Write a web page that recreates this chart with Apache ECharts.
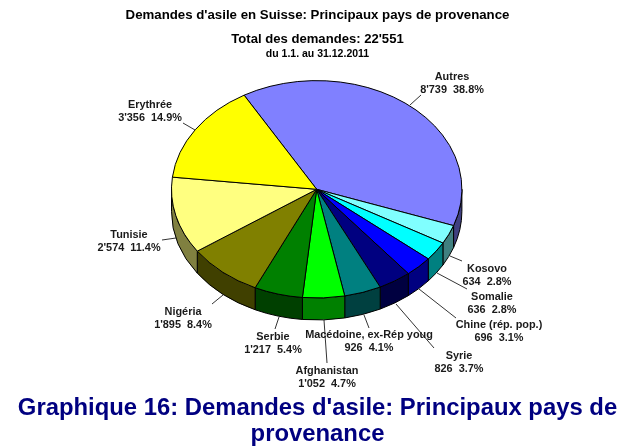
<!DOCTYPE html>
<html>
<head>
<meta charset="utf-8">
<script src="https://cdn.jsdelivr.net/npm/echarts@6/dist/echarts.min.js"></script>
<style>html,body{margin:0;padding:0;background:#fff}#c{width:635px;height:446px}</style>
</head>
<body>
<div id="c"></div>
<script>
var categories = ['Autres','Kosovo','Somalie','Chine (rép. pop.)','Syrie',"Macédoine, ex-Rép youg",'Afghanistan','Serbie','Nigéria','Tunisie','Erythrée'];
var values = [8739,634,636,696,826,926,1052,1217,1895,2574,3356];
var topColors = ['#8080FF','#80FFFF','#00FFFF','#0000FF','#000080','#008080','#00FF00','#008000','#808000','#FFFF80','#FFFF00'];
var sideColors = ['#404080','#408080','#008080','#000080','#000040','#004040','#008000','#004000','#404000','#808040','#808000'];

// layout only: label centre [x, y of block middle], leader line [x1,y1,x2,y2]
var labelPos = [[452,83.5],[487,275],[492,303],[499,331],[459,362.5],[369,341],[327,377],[273,343.5],[183,318],[129,241],[150,111]];
var leaders = [
 [410,105,421,95],[450,256,462,261],[437,273,467,289],[419,289,456,318],[396,304,434,348],
 [364,315,369,328],[324,320,327,363],[279,317,275,329],[223,295,212,304],[176,238,162,240],[195,130,183,123]];
var cx = 316.7, cy = 189.3, rx = 145.2, ry = 108.7, depth = 22, startDeg = -120;
var lineH = 13;

var total = values.reduce(function(a,b){return a+b;},0);
function fmt(v){ return String(v).replace(/\B(?=(\d{3})+$)/g,"'"); }
function pt(deg,dy){ var r=deg*Math.PI/180; return [cx+rx*Math.cos(r), cy+ry*Math.sin(r)+(dy||0)]; }
function arcTo(p,sweep,large){ return 'A'+rx+' '+ry+' 0 '+(large?1:0)+' '+sweep+' '+p[0]+' '+p[1]; }

function renderItem(params, api){
  var i = params.dataIndex, before = 0;
  for (var k=0;k<i;k++) before += values[k];
  var a0 = startDeg + before/total*360;
  var a1 = a0 + api.value(0)/total*360;
  var children = [];
  var stroke = {stroke:'#000',lineWidth:1,lineJoin:'round'};
  var s0 = Math.max(a0,0), s1 = Math.min(a1,180);
  if (s1 > s0) {
    var p0=pt(s0), p1=pt(s1), q0=pt(s0,depth), q1=pt(s1,depth);
    children.push({type:'path',shape:{pathData:'M'+p0[0]+' '+p0[1]+arcTo(p1,1,false)+'L'+q1[0]+' '+q1[1]+arcTo(q0,0,false)+'Z'},
      style:Object.assign({fill:sideColors[i]},stroke)});
  }
  var t0=pt(a0), t1=pt(a1);
  children.push({type:'path',shape:{pathData:'M'+cx+' '+cy+'L'+t0[0]+' '+t0[1]+arcTo(t1,1,(a1-a0)>180)+'Z'},
    style:Object.assign({fill:topColors[i]},stroke)});
  var l = leaders[i];
  children.push({type:'line',shape:{x1:l[0],y1:l[1],x2:l[2],y2:l[3]},style:{stroke:'#000',lineWidth:0.8}});
  var pct = (api.value(0)/total*100).toFixed(1);
  children.push({type:'text',x:labelPos[i][0],y:labelPos[i][1],style:{
    text:categories[i]+'\n'+fmt(api.value(0))+'  '+pct+'%',
    fill:'#1a1a1a',font:'bold 10.9px "Liberation Sans", Arial',align:'center',verticalAlign:'middle',lineHeight:lineH}});
  return {type:'group',children:children};
}

var chart = echarts.init(document.getElementById('c'),null,{renderer:'canvas'});
var T = function(text,top,size,color){ return {text:text,left:'center',top:top,textStyle:{fontFamily:'"Liberation Sans", Arial',fontWeight:'bold',fontSize:size,color:color||'#000'},padding:0}; };
chart.setOption({
  animation:false,
  backgroundColor:'#fff',
  title:[
    T("Demandes d'asile en Suisse: Principaux pays de provenance",9,13.25),
    T("Total des demandes: 22'551",33,13.1),
    T("du 1.1. au 31.12.2011",49,10.5),
    T("Graphique 16: Demandes d'asile: Principaux pays de",396,23.85,'#000080'),
    T("provenance",422.5,23.85,'#000080')
  ],
  series:[{type:'custom',coordinateSystem:'none',renderItem:renderItem,
    data:categories.map(function(n,i){return {name:n,value:[values[i]]};})}]
});
</script>
</body>
</html>
